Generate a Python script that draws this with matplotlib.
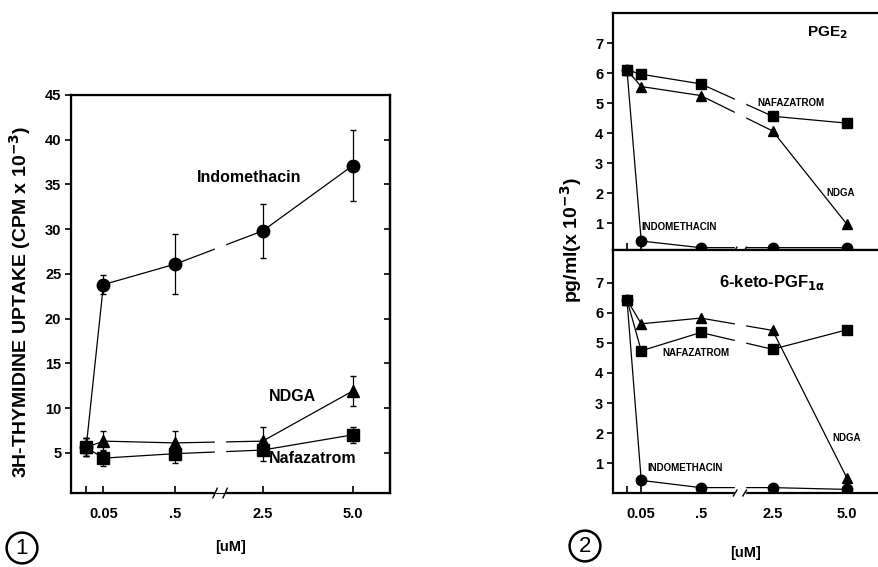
import numpy as np
import matplotlib
matplotlib.use("Agg")
import matplotlib.pyplot as plt

plt.rcParams['font.family'] = ['Liberation Sans', 'DejaVu Sans']
plt.rcParams['font.weight'] = 'bold'
plt.rcParams['axes.labelweight'] = 'bold'
plt.rcParams['mathtext.default'] = 'bf'

# dose categories (first one is the untreated control, no label)
doses = ['', '0.05', '.5', '2.5', '5.0']
xpos = np.array([0, 0.24, 1.24, 2.45, 3.7])   # spacing as drawn, axis broken between .5 and 2.5

# figure 1: 3H-thymidine uptake (CPM x 10^-3)
indo_up = [5.6, 23.8, 26.1, 29.8, 37.1]
indo_err = [1.0, 1.1, 3.4, 3.0, 4.0]
ndga_up = [5.6, 6.3, 6.1, 6.3, 11.9]
ndga_err = [1.0, 1.1, 1.3, 1.6, 1.7]
naf_up = [5.6, 4.4, 4.9, 5.3, 7.0]
naf_err = [1.0, 0.9, 1.0, 1.2, 0.9]

# figure 2 top: PGE2 (pg/ml x 10^-3)
indo_pge = [6.1, 0.4, 0.18, 0.18, 0.18]
naf_pge = [6.1, 5.96, 5.64, 4.56, 4.33]
ndga_pge = [6.1, 5.55, 5.25, 4.07, 0.96]

# figure 2 bottom: 6-keto-PGF1a (pg/ml x 10^-3)
indo_pgf = [6.44, 0.42, 0.18, 0.18, 0.12]
naf_pgf = [6.44, 4.74, 5.35, 4.79, 5.44]
ndga_pgf = [6.44, 5.64, 5.83, 5.42, 0.5]

fig = plt.figure(figsize=(8.79, 5.67), dpi=100)

def style_axis(ax, right_spine=True):
    for s in ax.spines.values():
        s.set_linewidth(1.6)
    ax.spines['right'].set_visible(right_spine)
    ax.tick_params(axis='y', direction='out', length=4, width=1.2, labelsize=10.5, pad=3)
    ax.tick_params(axis='x', direction='in', length=5, width=1.2, labelsize=10.5, pad=10)

def add_break(ax, bx, w, top):
    # white gap through the lines and the bottom spine, with slash marks
    ax.axvspan(bx - w, bx + w, ymin=-0.01, ymax=top, color='white', zorder=3, clip_on=False)
    tr = ax.get_xaxis_transform()
    for dx in (-w, w):
        ax.plot([bx + dx - 0.03, bx + dx + 0.03], [-0.012, 0.012], color='black', lw=1.0,
                transform=tr, clip_on=False, zorder=4)

# ---- Figure 1 ----
ax1 = fig.add_axes([0.0808, 0.1305, 0.363, 0.702])
ms = 9
ax1.errorbar(xpos, indo_up, yerr=indo_err, color='black', marker='o', ms=ms, lw=0.9,
             elinewidth=0.9, capsize=2.5)
ax1.errorbar(xpos, ndga_up, yerr=ndga_err, color='black', marker='^', ms=ms - 1, lw=0.9,
             elinewidth=0.9, capsize=2.5)
ax1.errorbar(xpos, naf_up, yerr=naf_err, color='black', marker='s', ms=ms - 1, lw=0.9,
             elinewidth=0.9, capsize=2.5)
ax1.set_xlim(-0.21, 4.22)
ax1.set_ylim(0.5, 45)
ax1.set_yticks([5, 10, 15, 20, 25, 30, 35, 40, 45])
ax1.set_xticks(xpos)
ax1.set_xticklabels(doses)
style_axis(ax1)
# inward ticks on the right-hand frame
ax1r = ax1.twinx()
ax1r.set_ylim(ax1.get_ylim())
ax1r.set_yticks(ax1.get_yticks())
ax1r.tick_params(axis='y', direction='in', length=4, width=1.2, labelright=False)
ax1r.spines['right'].set_linewidth(1.6)
add_break(ax1, 1.86, 0.07, 0.75)
ax1.set_ylabel('3H-THYMIDINE UPTAKE (CPM x 10$^{-3}$)', fontsize=14)
ax1.yaxis.set_label_coords(-0.12, 0.48)
ax1.set_xlabel('[uM]', fontsize=10.5, labelpad=14)
ax1.text(1.54, 35.8, 'Indomethacin', fontsize=11.5, va='center', ha='left', zorder=5)
ax1.text(2.53, 11.3, 'NDGA', fontsize=11.5, va='center', ha='left', zorder=5)
ax1.text(2.53, 4.4, 'Nafazatrom', fontsize=11.5, va='center', ha='left', zorder=5)
fig.text(22 / 879, 1 - 548 / 567, '1', fontsize=16, ha='center', va='center',
         fontweight='normal',
         bbox=dict(boxstyle='circle,pad=0.22', fc='white', ec='black', lw=1.8))

# ---- Figure 2 ----
axt = fig.add_axes([0.6974, 0.559, 0.3026, 0.418])
axb = fig.add_axes([0.6974, 0.1305, 0.3026, 0.4286])
ms2 = 7.5
panels = [
    (axt, indo_pge, naf_pge, ndga_pge, (0.1, 8.0)),
    (axb, indo_pgf, naf_pgf, ndga_pgf, (0.0, 8.1)),
]
for ax, indo, naf, ndga, ylim in panels:
    ax.plot(xpos, indo, color='black', marker='o', ms=ms2, lw=0.9)
    ax.plot(xpos, naf, color='black', marker='s', ms=ms2 - 0.5, lw=0.9)
    ax.plot(xpos, ndga, color='black', marker='^', ms=ms2 - 1, lw=0.9)
    ax.set_xlim(-0.235, 4.24)
    ax.set_ylim(*ylim)
    ax.set_yticks([1, 2, 3, 4, 5, 6, 7])
    ax.set_xticks(xpos)
    style_axis(ax, right_spine=False)
    add_break(ax, 1.9, 0.08, 0.85)
axt.set_xticklabels([])
axb.set_xticklabels(doses)
axt.text(3.03, 7.33, 'PGE$_{2}$', fontsize=11, va='center', ha='left')
axt.text(2.2, 5.0, 'NAFAZATROM', fontsize=7, va='center', ha='left', zorder=5)
axt.text(3.36, 2.0, 'NDGA', fontsize=7, va='center', ha='left', zorder=5)
axt.text(0.24, 0.87, 'INDOMETHACIN', fontsize=7, va='center', ha='left', zorder=5)
axb.text(1.55, 7.0, '6-keto-PGF$_{1\\alpha}$', fontsize=12, va='center', ha='left')
axb.text(0.6, 4.67, 'NAFAZATROM', fontsize=7, va='center', ha='left', zorder=5)
axb.text(3.45, 1.83, 'NDGA', fontsize=7, va='center', ha='left', zorder=5)
axb.text(0.34, 0.83, 'INDOMETHACIN', fontsize=7, va='center', ha='left', zorder=5)
axb.set_xlabel('[uM]', fontsize=10.5, labelpad=18)
fig.text(571 / 879, 1 - 240 / 567, 'pg/ml(x 10$^{-3}$)', rotation=90, fontsize=14,
         ha='center', va='center')
fig.text(585 / 879, 1 - 546 / 567, '2', fontsize=16, ha='center', va='center',
         fontweight='normal',
         bbox=dict(boxstyle='circle,pad=0.22', fc='white', ec='black', lw=1.8))

fig.savefig('out.png', dpi=100, facecolor='white')
